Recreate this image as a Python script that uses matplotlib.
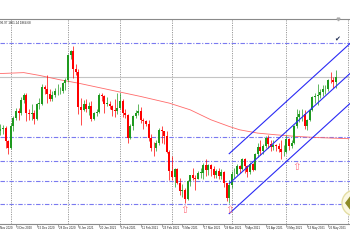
import numpy as np
import pandas as pd
import matplotlib
matplotlib.use("Agg")
import matplotlib.pyplot as plt
from matplotlib.patches import Circle, Polygon
from matplotlib.transforms import IdentityTransform

# XAUUSD daily, 23 Nov 2020 .. 28 May 2021
holidays = ["2020-12-25", "2021-01-01", "2021-04-02"]
opens = [1872, 1837, 1805, 1809, 1811, 1788, 1776, 1815, 1830, 1841,
         1839, 1862, 1871, 1838, 1836, 1839, 1827, 1855, 1855, 1886,
         1881, 1873, 1863, 1871, 1877, 1877, 1877, 1893, 1898, 1943,
         1950, 1918, 1913, 1849, 1844, 1855, 1845, 1851, 1828, 1839,
         1840, 1871, 1869, 1855, 1855, 1850, 1843, 1842, 1848, 1860,
         1838, 1834, 1794, 1814, 1833, 1838, 1842, 1826, 1823, 1819,
         1794, 1776, 1775, 1784, 1808, 1806, 1797, 1768, 1733, 1723,
         1737, 1712, 1697, 1700, 1683, 1716, 1726, 1722, 1719, 1731,
         1731, 1745, 1735, 1745, 1738, 1727, 1734, 1725, 1732, 1712,
         1685, 1708, 1728, 1728, 1743, 1737, 1756, 1743, 1732, 1747,
         1736, 1764, 1777, 1770, 1779, 1793, 1783, 1777, 1780, 1778,
         1773, 1768, 1768, 1792, 1779, 1785, 1815, 1831, 1836, 1837,
         1815, 1826, 1843, 1867, 1869, 1870, 1876, 1881, 1881, 1898,
         1897, 1895]
highs = [1875, 1839, 1819, 1817, 1815, 1789, 1820, 1832, 1848, 1848,
         1867, 1875, 1875, 1846, 1855, 1843, 1856, 1865, 1890, 1888,
         1907, 1882, 1878, 1884, 1890, 1886, 1895, 1901, 1945, 1952,
         1959, 1926, 1917, 1865, 1862, 1863, 1858, 1860, 1840, 1845,
         1874, 1875, 1870, 1867, 1860, 1852, 1863, 1875, 1875, 1863,
         1845, 1837, 1818, 1835, 1843, 1855, 1849, 1829, 1826, 1825,
         1800, 1786, 1789, 1812, 1815, 1806, 1805, 1771, 1760, 1740,
         1739, 1722, 1710, 1703, 1718, 1727, 1739, 1726, 1734, 1740,
         1748, 1755, 1746, 1746, 1742, 1737, 1740, 1737, 1733, 1713,
         1718, 1733, 1740, 1746, 1745, 1758, 1757, 1745, 1750, 1749,
         1766, 1784, 1790, 1783, 1797, 1798, 1790, 1789, 1783, 1785,
         1790, 1781, 1798, 1794, 1790, 1817, 1845, 1844, 1845, 1843,
         1828, 1846, 1868, 1874, 1890, 1882, 1889, 1889, 1900, 1913,
         1903, 1916]
lows = [1829, 1800, 1799, 1801, 1775, 1764, 1773, 1805, 1826, 1826,
        1834, 1856, 1823, 1826, 1825, 1819, 1825, 1845, 1853, 1872,
        1856, 1860, 1860, 1867, 1870, 1872, 1874, 1880, 1895, 1935,
        1902, 1906, 1836, 1817, 1842, 1840, 1835, 1823, 1826, 1832,
        1838, 1859, 1838, 1850, 1845, 1832, 1831, 1837, 1846, 1831,
        1829, 1785, 1791, 1808, 1829, 1834, 1821, 1809, 1814, 1788,
        1769, 1760, 1770, 1781, 1784, 1782, 1766, 1717, 1717, 1705,
        1710, 1690, 1687, 1676, 1682, 1707, 1717, 1699, 1719, 1721,
        1719, 1724, 1727, 1725, 1722, 1722, 1720, 1720, 1705, 1679,
        1677, 1704, 1722, 1727, 1731, 1735, 1731, 1723, 1729, 1733,
        1735, 1759, 1763, 1764, 1776, 1775, 1770, 1772, 1770, 1768,
        1756, 1760, 1766, 1771, 1776, 1782, 1811, 1822, 1823, 1809,
        1808, 1823, 1842, 1857, 1852, 1866, 1869, 1873, 1878, 1893,
        1884, 1883]
closes = [1837, 1805, 1809, 1811, 1788, 1776, 1815, 1830, 1841, 1839,
          1862, 1871, 1838, 1836, 1839, 1827, 1855, 1855, 1886, 1881,
          1873, 1863, 1871, 1877, 1877, 1877, 1893, 1898, 1943, 1950,
          1918, 1913, 1849, 1844, 1855, 1845, 1851, 1828, 1839, 1840,
          1871, 1869, 1855, 1855, 1850, 1843, 1842, 1848, 1860, 1838,
          1834, 1794, 1814, 1833, 1838, 1842, 1826, 1823, 1819, 1794,
          1776, 1775, 1784, 1808, 1806, 1797, 1768, 1733, 1723, 1737,
          1712, 1697, 1700, 1683, 1716, 1726, 1722, 1719, 1731, 1731,
          1745, 1735, 1745, 1738, 1727, 1734, 1725, 1732, 1712, 1685,
          1708, 1728, 1728, 1743, 1737, 1756, 1743, 1732, 1747, 1736,
          1764, 1777, 1770, 1779, 1793, 1783, 1777, 1780, 1778, 1773,
          1768, 1768, 1792, 1779, 1785, 1815, 1831, 1836, 1837, 1815,
          1826, 1843, 1867, 1869, 1870, 1876, 1881, 1881, 1898, 1897,
          1895, 1902.5]

# moving average read at a few bars
ma_idx = [0, 11, 17, 25, 32, 40, 48, 56, 67, 75, 83, 90, 94, 101, 108, 116, 124, 136]
ma_val = [1909, 1911, 1906, 1898, 1892, 1884, 1876, 1868, 1856, 1844, 1826,
          1814, 1808, 1802, 1799, 1796, 1794, 1792]

# horizontal support / resistance levels
levels = [1964, 1795, 1752, 1716, 1674]

# rising channel: middle line through two points, half width in $
chan_x = [90, 136.5]
chan_y = [1711, 1909.6]
chan_half = 54

# up arrows under the lows
arrow_idx = [73, 90, 116]
arrow_val = [1663, 1663, 1741]

check_idx, check_val = 131.7, 1973
header = "96.97 1861.14 1864.68"

dates = pd.bdate_range("2020-11-23", "2021-05-28").drop(pd.to_datetime(holidays))
o = np.array(opens, float)
h = np.array(highs, float)
l = np.array(lows, float)
c = np.array(closes, float)
idx = np.arange(len(c))

fig = plt.figure(figsize=(3.5, 2.5), dpi=100)
ax = fig.add_axes([0, 26 / 250, 1, 205 / 250])
ax.set_xlim(1.85, 136.46)
ax.set_ylim(1638.3, 2007.6)

# month separators
seps = [i for i in range(1, len(dates)) if dates[i].month != dates[i - 1].month] + [135.7]
for s in seps:
    ax.axvline(s, color="#9a9a9a", lw=0.7, ls=(0, (1.2, 1.2)), zorder=1)

for lv in levels:
    ax.axhline(lv, color="#7a7af0", lw=0.8, ls=(0, (4, 1.5, 1, 1.5)), zorder=1)

ax.axhline(c[-1], color="#c4c4c4", lw=0.8, zorder=1)
ax.plot(ma_idx, ma_val, color="#ff6a6a", lw=0.6, zorder=2)

up = c >= o
cols = np.where(up, "#1f9a1f", "#ff0000")
ax.vlines(idx, l, h, colors=cols, lw=0.5, zorder=3)
ax.bar(idx, np.maximum(np.abs(c - o), 0.9), bottom=np.minimum(o, c),
       width=0.8, color=cols, lw=0, zorder=3)

for k in (-1, 0, 1):
    ax.plot(chan_x, np.array(chan_y) + k * chan_half, color="#2a2af5", lw=0.8, zorder=4)

for xi, yi in zip(arrow_idx, arrow_val):
    ax.text(xi, yi, "\u21e7", color="#ff7080", fontsize=7.5, ha="center", va="center", zorder=5)

ax.text(check_idx, check_val, "\u2714", color="#1c2a50", fontsize=5,
        ha="center", va="center", zorder=5)
ax.plot([c.size - 0.3], [1], transform=ax.get_xaxis_transform(), marker="v",
        ms=2, color="#aaaaaa", clip_on=False, zorder=5)

# time axis, a label every 8 bars
lab_idx = list(range(0, len(dates), 8))
ax.set_xticks([i for i in lab_idx if i > 1.85])
ax.tick_params(axis="x", length=2, width=0.5, color="#808080", labelbottom=False)
ax.set_yticks([])
for i in lab_idx:
    d = dates[i]
    ax.text(i + 0.4, -0.012, f"{d.day} {d.strftime('%b %Y')}",
            transform=ax.get_xaxis_transform(), ha="left", va="top",
            fontsize=2.05, family="Liberation Sans", color="#202020", clip_on=False)

for side in ("left", "right"):
    ax.spines[side].set_visible(False)
for side in ("top", "bottom"):
    ax.spines[side].set_color("#8a8a8a")
    ax.spines[side].set_linewidth(0.8)

fig.text(0.5 / 350, 1 - 22.5 / 250, header, fontsize=2.2, family="Liberation Sans",
         color="#202020", va="center", ha="left")

# round badge cut by the right edge
fig.add_artist(Circle((355, 47), 13, transform=IdentityTransform(),
                      facecolor="#fbf8e2", edgecolor="#e4dea4", lw=1))
fig.add_artist(Polygon([(345, 47), (351, 55), (351, 39)], closed=True,
                       transform=IdentityTransform(), facecolor="#8d8a26", lw=0))

fig.savefig("out.png", dpi=100)
